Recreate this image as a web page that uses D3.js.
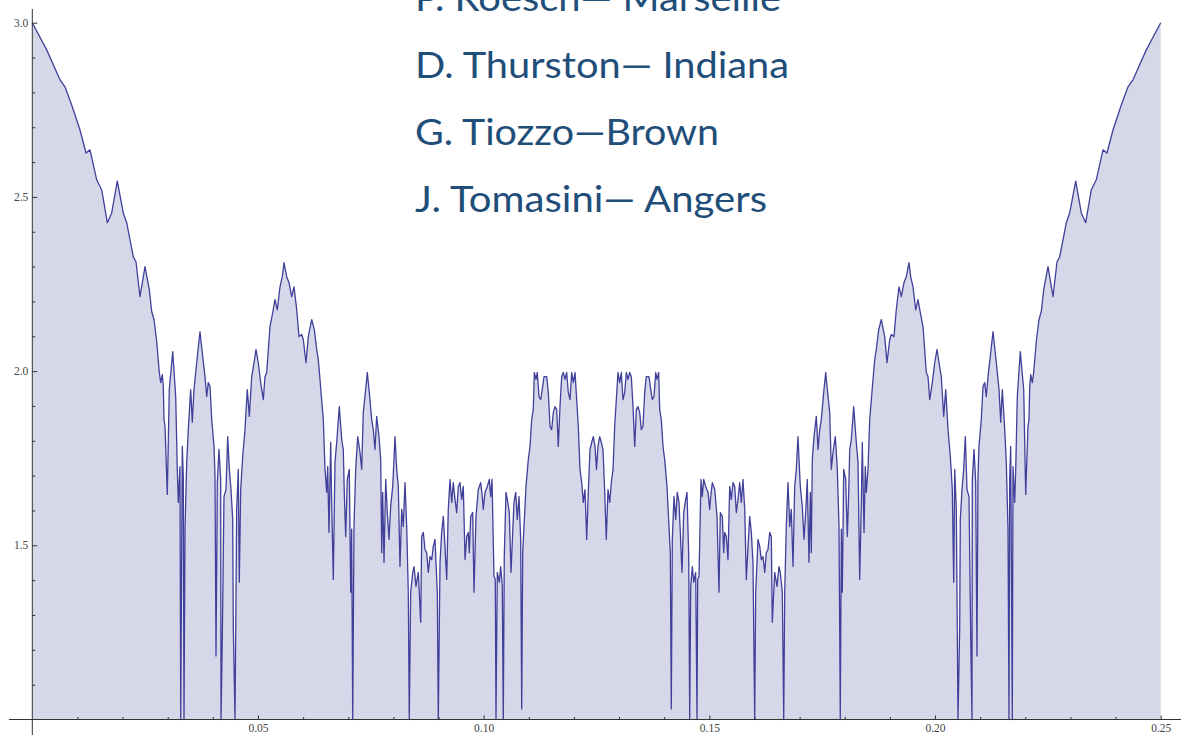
<!DOCTYPE html>
<html><head><meta charset="utf-8">
<script src="https://cdn.jsdelivr.net/npm/d3@7"></script>
<style>body{margin:0;background:#fff} svg{display:block}</style>
</head><body>
<svg id="chart" width="1181" height="735"></svg>
<script>
// [theta, value], left half 0 .. 0.125
const leftHalf = [
[0,3.0],[0.00319,2.922],[0.00614,2.836],[0.00724,2.816],[0.00873,2.764],[0.01057,2.692],[0.01190,2.626],[0.01278,2.635],
[0.01427,2.549],[0.01538,2.520],[0.01662,2.426],[0.01759,2.454],[0.01883,2.545],[0.02016,2.454],[0.02091,2.426],[0.02238,2.328],
[0.02297,2.314],[0.02386,2.214],[0.02497,2.300],[0.02592,2.234],[0.02645,2.171],[0.02696,2.148],[0.02756,2.085],[0.02814,1.996],
[0.02845,1.967],[0.02880,1.990],[0.02902,1.956],[0.02918,1.861],[0.02940,1.841],[0.02991,1.646],[0.03035,1.947],[0.03111,2.056],
[0.03177,1.927],[0.03212,1.718],[0.03235,1.623],[0.03272,1.726],[0.03288,1.0],[0.03323,1.784],[0.03345,1.698],[0.03361,1.0],
[0.03383,1.546],[0.03421,1.738],[0.03456,1.832],[0.03509,1.947],[0.03545,1.853],[0.03582,1.947],[0.03642,2.024],[0.03715,2.113],
[0.03766,2.053],[0.03826,1.984],[0.03864,1.927],[0.03899,1.967],[0.03937,1.956],[0.03975,1.861],[0.04026,1.784],[0.04048,1.698],
[0.04070,1.182],[0.04099,1.680],[0.04136,1.775],[0.04174,1.689],[0.04181,1.0],[0.04209,1.231],[0.04247,1.640],[0.04291,1.660],
[0.04329,1.812],[0.04365,1.718],[0.04402,1.660],[0.04440,1.574],[0.04453,1.268],[0.04491,1.0],[0.04528,1.603],[0.04564,1.718],
[0.04586,1.394],[0.04617,1.660],[0.04661,1.755],[0.04712,1.832],[0.04763,1.947],[0.04808,1.870],[0.04861,1.984],[0.04912,2.024],
[0.04956,2.062],[0.05007,2.024],[0.05060,1.967],[0.05118,1.918],[0.05155,1.984],[0.05193,1.996],[0.05266,2.128],[0.05326,2.168],
[0.05377,2.205],[0.05428,2.176],[0.05488,2.242],[0.05539,2.271],[0.05576,2.311],[0.05636,2.271],[0.05687,2.254],[0.05747,2.214],
[0.05798,2.242],[0.05858,2.176],[0.05909,2.099],[0.05969,2.105],[0.06004,2.090],[0.06064,2.024],[0.06115,2.099],[0.06190,2.148],
[0.06248,2.119],[0.06301,2.062],[0.06336,2.033],[0.06374,1.976],[0.06447,1.861],[0.06485,1.718],[0.06522,1.652],[0.06545,1.726],
[0.06573,1.537],[0.06611,1.795],[0.06633,1.623],[0.06669,1.402],[0.06706,1.738],[0.06744,1.795],[0.06802,1.898],[0.06855,1.803],
[0.06890,1.775],[0.06912,1.652],[0.06943,1.525],[0.06979,1.689],[0.07023,1.718],[0.07054,1.365],[0.07076,1.546],[0.07099,1.0],
[0.07127,1.554],[0.07165,1.718],[0.07209,1.812],[0.07260,1.767],[0.07298,1.718],[0.07333,1.881],[0.07393,1.956],[0.07422,1.996],
[0.07466,1.939],[0.07519,1.861],[0.07555,1.832],[0.07592,1.775],[0.07630,1.870],[0.07681,1.812],[0.07719,1.746],[0.07741,1.479],
[0.07763,1.652],[0.07792,1.451],[0.07830,1.689],[0.07865,1.594],[0.07903,1.517],[0.07940,1.611],[0.07985,1.669],[0.08036,1.812],
[0.08073,1.718],[0.08109,1.669],[0.08146,1.439],[0.08184,1.603],[0.08219,1.554],[0.08257,1.680],[0.08295,1.554],[0.08330,1.365],
[0.08352,1.0],[0.08383,1.365],[0.08428,1.422],[0.08457,1.439],[0.08501,1.382],[0.08552,1.422],[0.08605,1.279],[0.08627,1.525],
[0.08663,1.537],[0.08700,1.488],[0.08738,1.479],[0.08773,1.422],[0.08811,1.468],[0.08849,1.459],[0.08884,1.497],[0.08922,1.517],
[0.08944,1.451],[0.08973,1.365],[0.08995,1.0],[0.09033,1.451],[0.09070,1.537],[0.09106,1.583],[0.09143,1.497],[0.09181,1.402],
[0.09216,1.603],[0.09254,1.689],[0.09292,1.623],[0.09327,1.680],[0.09365,1.632],[0.09402,1.594],[0.09438,1.669],[0.09476,1.680],
[0.09513,1.632],[0.09549,1.669],[0.09587,1.459],[0.09624,1.525],[0.09660,1.537],[0.09682,1.479],[0.09713,1.583],[0.09757,1.594],
[0.09786,1.365],[0.09830,1.583],[0.09881,1.660],[0.09934,1.680],[0.09970,1.640],[0.09992,1.603],[0.10030,1.652],[0.10081,1.669],
[0.10125,1.689],[0.10156,1.640],[0.10185,1.689],[0.10229,1.411],[0.10258,1.402],[0.10273,1.0],[0.10302,1.422],[0.10346,1.394],
[0.10377,1.439],[0.10413,1.382],[0.10435,1.0],[0.10457,1.468],[0.10495,1.652],[0.10524,1.632],[0.10568,1.594],[0.10606,1.422],
[0.10643,1.537],[0.10672,1.623],[0.10710,1.652],[0.10745,1.574],[0.10783,1.640],[0.10820,1.517],[0.10843,1.03],[0.10865,1.479],
[0.10894,1.554],[0.10938,1.669],[0.10989,1.746],[0.11027,1.784],[0.11064,1.861],[0.11100,1.890],[0.11122,1.996],[0.11160,1.976],
[0.11188,1.996],[0.11226,1.927],[0.11264,1.918],[0.11308,1.956],[0.11337,1.984],[0.11397,1.984],[0.11432,1.939],[0.11470,1.841],
[0.11507,1.832],[0.11543,1.881],[0.11580,1.898],[0.11618,1.890],[0.11653,1.784],[0.11691,1.898],[0.11729,1.984],[0.11764,1.996],
[0.11802,1.976],[0.11839,1.996],[0.11875,1.939],[0.11913,1.918],[0.11950,1.996],[0.11986,1.967],[0.12024,1.996],[0.12061,1.918],
[0.12097,1.841],[0.12134,1.718],[0.12172,1.680],[0.12207,1.623],[0.12245,1.660],[0.12283,1.517],[0.12318,1.652],[0.12356,1.775],
[0.12393,1.795],[0.12429,1.812],[0.12467,1.784],[0.12500,1.718]
];
// right half 0.125 .. 0.25
const rightHalf = [
[0.12533,1.784],[0.12571,1.812],[0.12607,1.795],[0.12644,1.775],[0.12682,1.652],[0.12717,1.517],[0.12755,1.660],[0.12793,1.623],
[0.12828,1.680],[0.12866,1.718],[0.12903,1.841],[0.12939,1.918],[0.12976,1.996],[0.13014,1.967],[0.13050,1.996],[0.13087,1.918],
[0.13125,1.939],[0.13161,1.996],[0.13198,1.976],[0.13236,1.996],[0.13271,1.984],[0.13309,1.898],[0.13347,1.784],[0.13382,1.890],
[0.13420,1.898],[0.13457,1.881],[0.13493,1.832],[0.13530,1.841],[0.13568,1.939],[0.13603,1.984],[0.13663,1.984],[0.13692,1.956],
[0.13736,1.918],[0.13774,1.927],[0.13812,1.996],[0.13840,1.976],[0.13878,1.996],[0.13900,1.890],[0.13936,1.861],[0.13973,1.784],
[0.14011,1.746],[0.14062,1.669],[0.14106,1.554],[0.14135,1.479],[0.14157,1.03],[0.14180,1.517],[0.14217,1.640],[0.14255,1.574],
[0.14290,1.652],[0.14328,1.623],[0.14357,1.537],[0.14394,1.422],[0.14432,1.594],[0.14476,1.632],[0.14505,1.652],[0.14543,1.468],
[0.14565,1.0],[0.14587,1.382],[0.14623,1.439],[0.14654,1.394],[0.14698,1.422],[0.14727,1.0],[0.14742,1.402],[0.14771,1.411],
[0.14815,1.689],[0.14844,1.640],[0.14875,1.689],[0.14919,1.669],[0.14970,1.652],[0.15008,1.603],[0.15030,1.640],[0.15066,1.680],
[0.15119,1.660],[0.15170,1.583],[0.15214,1.365],[0.15243,1.594],[0.15287,1.583],[0.15318,1.479],[0.15340,1.537],[0.15376,1.525],
[0.15413,1.459],[0.15451,1.669],[0.15487,1.632],[0.15524,1.680],[0.15562,1.669],[0.15598,1.594],[0.15635,1.632],[0.15673,1.680],
[0.15708,1.623],[0.15746,1.689],[0.15784,1.603],[0.15819,1.402],[0.15857,1.497],[0.15894,1.583],[0.15930,1.537],[0.15967,1.451],
[0.16005,1.0],[0.16027,1.365],[0.16056,1.451],[0.16078,1.517],[0.16116,1.497],[0.16151,1.459],[0.16189,1.468],[0.16227,1.422],
[0.16262,1.479],[0.16300,1.488],[0.16337,1.537],[0.16373,1.525],[0.16395,1.279],[0.16448,1.422],[0.16499,1.382],[0.16543,1.439],
[0.16572,1.422],[0.16617,1.365],[0.16648,1.0],[0.16670,1.365],[0.16705,1.554],[0.16743,1.680],[0.16781,1.554],[0.16816,1.603],
[0.16854,1.439],[0.16891,1.669],[0.16927,1.718],[0.16964,1.812],[0.17015,1.669],[0.17060,1.611],[0.17097,1.517],[0.17135,1.594],
[0.17170,1.689],[0.17208,1.451],[0.17237,1.652],[0.17259,1.479],[0.17281,1.746],[0.17319,1.812],[0.17370,1.870],[0.17408,1.775],
[0.17445,1.832],[0.17481,1.861],[0.17534,1.939],[0.17578,1.996],[0.17607,1.956],[0.17667,1.881],[0.17702,1.718],[0.17740,1.767],
[0.17791,1.812],[0.17835,1.718],[0.17873,1.554],[0.17901,1.0],[0.17924,1.546],[0.17946,1.365],[0.17977,1.718],[0.18021,1.689],
[0.18057,1.525],[0.18088,1.652],[0.18110,1.775],[0.18145,1.803],[0.18198,1.898],[0.18256,1.795],[0.18294,1.738],[0.18331,1.402],
[0.18367,1.623],[0.18389,1.795],[0.18427,1.537],[0.18455,1.726],[0.18478,1.652],[0.18515,1.718],[0.18553,1.861],[0.18626,1.976],
[0.18664,2.033],[0.18699,2.062],[0.18752,2.119],[0.18810,2.148],[0.18885,2.099],[0.18936,2.024],[0.18996,2.090],[0.19031,2.105],
[0.19091,2.099],[0.19142,2.176],[0.19202,2.242],[0.19253,2.214],[0.19313,2.254],[0.19364,2.271],[0.19424,2.311],[0.19461,2.271],
[0.19512,2.242],[0.19572,2.176],[0.19623,2.205],[0.19674,2.168],[0.19734,2.128],[0.19807,1.996],[0.19845,1.984],[0.19882,1.918],
[0.19940,1.967],[0.19993,2.024],[0.20044,2.062],[0.20088,2.024],[0.20139,1.984],[0.20192,1.870],[0.20237,1.947],[0.20288,1.832],
[0.20339,1.755],[0.20383,1.660],[0.20414,1.394],[0.20436,1.718],[0.20472,1.603],[0.20509,1.0],[0.20547,1.268],[0.20560,1.574],
[0.20598,1.660],[0.20635,1.718],[0.20671,1.812],[0.20709,1.660],[0.20753,1.640],[0.20791,1.231],[0.20819,1.0],[0.20826,1.689],
[0.20864,1.775],[0.20901,1.680],[0.20930,1.182],[0.20952,1.698],[0.20974,1.784],[0.21025,1.861],[0.21063,1.956],[0.21101,1.967],
[0.21136,1.927],[0.21174,1.984],[0.21234,2.053],[0.21285,2.113],[0.21358,2.024],[0.21418,1.947],[0.21455,1.853],[0.21491,1.947],
[0.21544,1.832],[0.21579,1.738],[0.21617,1.546],[0.21639,1.0],[0.21655,1.698],[0.21677,1.784],[0.21712,1.0],[0.21728,1.726],
[0.21765,1.623],[0.21788,1.718],[0.21823,1.927],[0.21889,2.056],[0.21965,1.947],[0.22009,1.646],[0.22060,1.841],[0.22082,1.861],
[0.22098,1.956],[0.22120,1.990],[0.22155,1.967],[0.22186,1.996],[0.22244,2.085],[0.22304,2.148],[0.22355,2.171],[0.22408,2.234],
[0.22503,2.300],[0.22614,2.214],[0.22703,2.314],[0.22762,2.328],[0.22909,2.426],[0.22984,2.454],[0.23117,2.545],[0.23241,2.454],
[0.23338,2.426],[0.23462,2.520],[0.23573,2.549],[0.23722,2.635],[0.23810,2.626],[0.23943,2.692],[0.24127,2.764],[0.24276,2.816],
[0.24386,2.836],[0.24681,2.922],[0.25000,3.0]
];

const xMajorTicks = [0.05, 0.10, 0.15, 0.20, 0.25];
const xTickLabels = ["0.05", "0.10", "0.15", "0.20", "0.25"];
const xMinorTicks = [0.01,0.02,0.03,0.04,0.06,0.07,0.08,0.09,0.11,0.12,0.13,0.14,0.16,0.17,0.18,0.19,0.21,0.22,0.23,0.24];
const yMajorTicks = [1.5, 2.0, 2.5, 3.0];
const yTickLabels = ["1.5", "2.0", "2.5", "3.0"];
const yMinorTicks = [1.1,1.2,1.3,1.4,1.6,1.7,1.8,1.9,2.1,2.2,2.3,2.4,2.6,2.7,2.8,2.9];
const creditLines = ["P. Roesch\u2014 Marseille", "D. Thurston\u2014 Indiana", "G. Tiozzo\u2014Brown", "J. Tomasini\u2014 Angers"];
const creditWidths = [366, 374, 304, 352];

const svg = d3.select("#chart");
svg.append("rect").attr("width", 1181).attr("height", 735).attr("fill", "#fff");

const x = d3.scaleLinear().domain([0, 0.25]).range([32.3, 1160.7]);
const y = d3.scaleLinear().domain([1.0, 3.0]).range([719.5, 22.7]);
const pts = leftHalf.concat(rightHalf);

svg.append("path").datum(pts)
  .attr("d", d3.area().x(d => x(d[0])).y0(y(1.0)).y1(d => y(d[1])))
  .attr("fill", "#d7d7ea");
svg.append("path").datum(pts)
  .attr("d", d3.line().x(d => x(d[0])).y(d => y(d[1])))
  .attr("fill", "none").attr("stroke", "#40409a").attr("stroke-width", 1.3)
  .attr("stroke-linejoin", "round");

// axes
const axisColor = "#333";
const xAxisG = svg.append("g").attr("transform", `translate(0,${y(1.0)})`);
xAxisG.call(d3.axisBottom(x).tickValues(xMajorTicks).tickFormat((d, i) => xTickLabels[i]).tickSize(-4).tickPadding(4));
const yAxisG = svg.append("g").attr("transform", `translate(${x(0)},0)`);
yAxisG.call(d3.axisLeft(y).tickValues(yMajorTicks).tickFormat((d, i) => yTickLabels[i]).tickSize(-5).tickPadding(4));
[xAxisG, yAxisG].forEach(g => {
  g.select(".domain").remove();
  g.selectAll("line").attr("stroke", axisColor);
  g.selectAll("text").attr("fill", "#444").attr("font-family", "Liberation Serif, serif").attr("font-size", 11.5);
});
const xMinorG = svg.append("g").attr("transform", `translate(0,${y(1.0)})`);
xMinorG.call(d3.axisBottom(x).tickValues(xMinorTicks).tickFormat("").tickSize(-2.5));
const yMinorG = svg.append("g").attr("transform", `translate(${x(0)},0)`);
yMinorG.call(d3.axisLeft(y).tickValues(yMinorTicks).tickFormat("").tickSize(-3));
[xMinorG, yMinorG].forEach(g => { g.select(".domain").remove(); g.selectAll("line").attr("stroke", axisColor); });

svg.append("line").attr("x1", 9).attr("x2", 1181).attr("y1", y(1.0)).attr("y2", y(1.0)).attr("stroke", axisColor).attr("stroke-width", 1);
svg.append("line").attr("x1", x(0)).attr("x2", x(0)).attr("y1", 9).attr("y2", 735).attr("stroke", axisColor).attr("stroke-width", 1);

// credits text
svg.append("g").selectAll("text").data(creditLines).join("text")
  .attr("x", 415).attr("y", (d, i) => 11 + i * 67)
  .attr("textLength", (d, i) => creditWidths[i]).attr("lengthAdjust", "spacingAndGlyphs")
  .attr("font-family", "Lato, 'Open Sans', sans-serif").attr("font-size", 37)
  .attr("fill", "#1f4e79").text(d => d);
</script>
</body></html>
